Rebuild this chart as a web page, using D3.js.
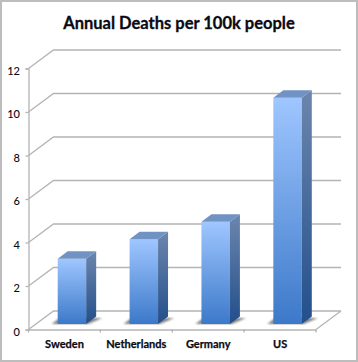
<!DOCTYPE html>
<html>
<head>
<meta charset="utf-8">
<script src="https://cdn.jsdelivr.net/npm/d3@7"></script>
<style>
    html, body { margin: 0; padding: 0; background: #fff; }
    svg { display: block; }
    text { font-family: Lato, "Open Sans", sans-serif; fill: #0a0a14; }
</style>
</head>
<body>
<div id="chart"></div>
<script>
const categories = ["Sweden", "Netherlands", "Germany", "US"];
const deaths = [3.0, 3.9, 4.7, 10.4];
const yTicks = [0, 2, 4, 6, 8, 10, 12];
const chartTitle = "Annual Deaths per 100k people";

const width = 358, height = 362;

// plot area of the front plane
const margin = {top: 68.5, right: 42, bottom: 32.5, left: 28.5};
const plotRight = width - margin.right;
const plotBottom = height - margin.bottom;

// 3d offsets: back wall and the middle of the floor where bars sit
const depth = {x: 25, y: -18.5};
const barShift = {x: 7.5, y: -5.5};
const barSide = {x: 10, y: -7.5};

const svg = d3.select("#chart").append("svg")
    .attr("width", width)
    .attr("height", height);

// picture frame
svg.append("rect")
    .attr("x", 1).attr("y", 1)
    .attr("width", width - 2).attr("height", height - 2)
    .attr("fill", "#fff")
    .attr("stroke", "#bdbdbd")
    .attr("stroke-width", 2);

const xScale = d3.scaleBand()
    .domain(categories)
    .range([margin.left, plotRight]);

const yScale = d3.scaleLinear()
    .domain([0, 12])
    .range([plotBottom, margin.top]);

const defs = svg.append("defs");

function addGradient(id, top, bottom) {
    const g = defs.append("linearGradient")
        .attr("id", id)
        .attr("x1", 0).attr("y1", 0)
        .attr("x2", 0).attr("y2", 1);
    g.append("stop").attr("offset", "0%").attr("stop-color", top);
    g.append("stop").attr("offset", "100%").attr("stop-color", bottom);
}
addGradient("barFront", "#9fc6ff", "#3c79c9");
addGradient("barSideFill", "#6c86ad", "#234f8b");

defs.append("filter")
    .attr("id", "blur")
    .append("feGaussianBlur")
    .attr("stdDeviation", 1.2);

// wall and floor lines
const gridColor = "#b4b4b4";
const grid = svg.append("g").attr("fill", "none").attr("stroke", gridColor).attr("stroke-width", 1.3);

grid.selectAll(".gridline")
    .data(yTicks)
    .enter().append("path")
    .attr("class", "gridline")
    .attr("d", d => `M${margin.left},${yScale(d)}L${margin.left + depth.x},${yScale(d) + depth.y}H${plotRight + depth.x}`);

// right edge of the floor
grid.append("path")
    .attr("d", `M${plotRight},${yScale(0)}L${plotRight + depth.x},${yScale(0) + depth.y}`);

// axes
const yAxis = d3.axisLeft(yScale)
    .tickValues(yTicks)
    .tickSize(3)
    .tickPadding(5.5)
    .tickFormat(d3.format("d"));

const yAxisG = svg.append("g")
    .attr("class", "y-axis")
    .attr("transform", `translate(${margin.left},0)`)
    .call(yAxis);

yAxisG.selectAll("text")
    .attr("font-size", 11)
    .attr("font-weight", 500)
    .attr("dy", "0.5em");

const xAxis = d3.axisBottom(xScale).tickSize(0).tickPadding(11);

const xAxisG = svg.append("g")
    .attr("class", "x-axis")
    .attr("transform", `translate(0,${plotBottom})`)
    .call(xAxis);

xAxisG.selectAll("text")
    .attr("font-size", 11)
    .attr("font-weight", 700)
    .attr("stroke", "#0a0a14")
    .attr("stroke-width", 0.25);

// category dividers on the front edge
xAxisG.selectAll(".divider")
    .data(d3.range(categories.length + 1))
    .enter().append("line")
    .attr("class", "divider")
    .attr("x1", d => margin.left + d * xScale.step())
    .attr("x2", d => margin.left + d * xScale.step())
    .attr("y1", 0)
    .attr("y2", 3);

svg.selectAll(".domain, .tick line, .divider")
    .attr("stroke", gridColor)
    .attr("stroke-width", 1.3);

// bars sit centred in each band, pushed back onto the floor
const barW = xScale.bandwidth() * 0.396;
const barBase = yScale(0) + barShift.y;
const bars = svg.selectAll(".bar")
    .data(deaths)
    .enter().append("g")
    .attr("class", "bar")
    .attr("transform", (d, i) => `translate(${xScale(categories[i]) + (xScale.bandwidth() - barW) / 2 + barShift.x},0)`);

// floor shadow
bars.append("path")
    .attr("d", `M${-6},${barBase}L${2},${barBase - 6}H${barW + barSide.x + 6}L${barW + 2},${barBase}Z`)
    .attr("fill", "#555")
    .attr("opacity", 0.75)
    .attr("filter", "url(#blur)");

bars.append("rect")
    .attr("class", "front")
    .attr("x", 0)
    .attr("y", d => yScale(d) + barShift.y)
    .attr("width", barW)
    .attr("height", d => barBase - (yScale(d) + barShift.y))
    .attr("fill", "url(#barFront)");

bars.append("path")
    .attr("class", "side")
    .attr("d", d => {
        const top = yScale(d) + barShift.y;
        return `M${barW},${top}l${barSide.x},${barSide.y}V${barBase + barSide.y}L${barW},${barBase}Z`;
    })
    .attr("fill", "url(#barSideFill)");

bars.append("path")
    .attr("class", "top")
    .attr("d", d => {
        const top = yScale(d) + barShift.y;
        return `M0,${top}l${barSide.x},${barSide.y}H${barW + barSide.x}L${barW},${top}Z`;
    })
    .attr("fill", "#7193c4");

// title
svg.append("text")
    .attr("x", 179)
    .attr("y", 29)
    .attr("text-anchor", "middle")
    .attr("font-size", 16.5)
    .attr("font-weight", 700)
    .attr("stroke", "#0a0a14")
    .attr("stroke-width", 0.3)
    .text(chartTitle);
</script>
</body>
</html>
